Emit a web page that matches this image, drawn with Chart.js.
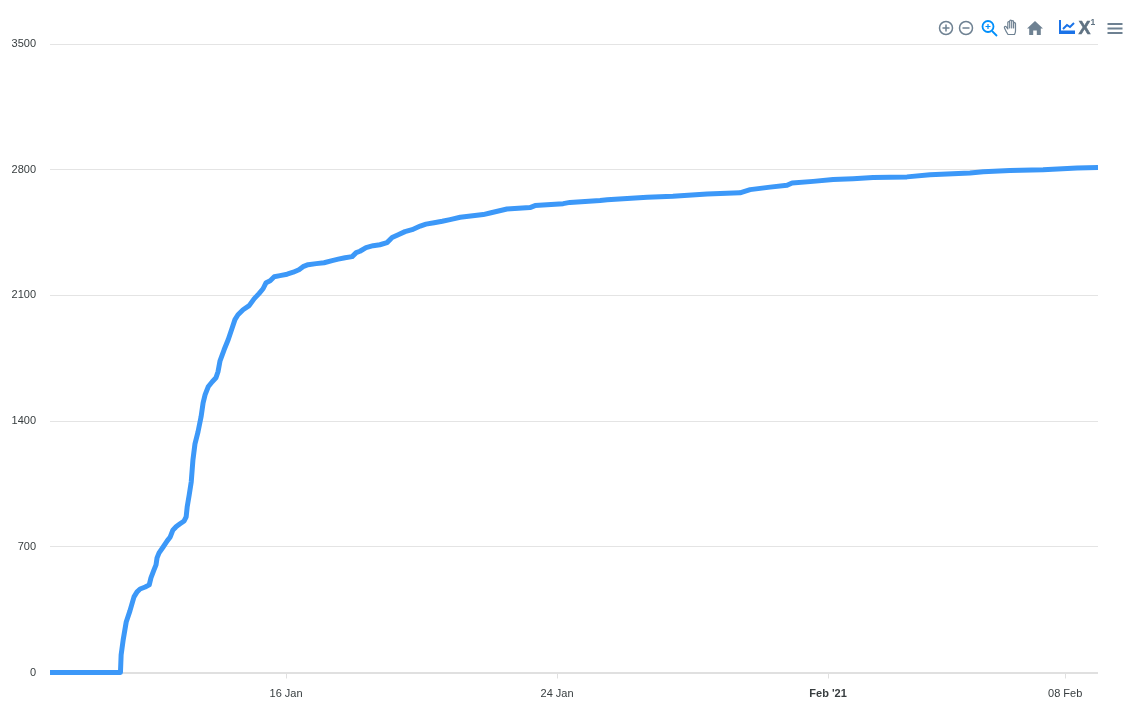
<!DOCTYPE html>
<html>
<head>
<meta charset="utf-8">
<style>
html,body{margin:0;padding:0;background:#fff;}
#wrap{position:relative;width:1136px;height:718px;overflow:hidden;}
#c{display:block;position:absolute;left:0;top:0;}
#tb{position:absolute;left:0;top:0;}
</style>
<script src="https://cdn.jsdelivr.net/npm/chart.js@4/dist/chart.umd.min.js"></script>
</head>
<body>
<div id="wrap">
<canvas id="c" width="1136" height="718"></canvas>
<svg id="tb" width="1136" height="60" viewBox="0 0 1136 60" fill="none">
  <g stroke="#6e8192" stroke-width="1.5">
    <circle cx="946" cy="28" r="6.500"/><path d="M942.500 28h7M946 24.500v7"/>
    <circle cx="966" cy="28" r="6.500"/><path d="M962.500 28h7"/>
  </g>
  <g stroke="#008ffb" stroke-width="1.8">
    <circle cx="988" cy="26.500" r="5.500"/><path d="M992 31l5 5"/>
    <path d="M985.500 26.500h5M988 24v5" stroke-width="1.200"/>
  </g>
  <path d="M1008 34.500c-1-1.500-2-3-3.500-6.500-.6-1.400.9-2.300 1.800-1.100l1.500 2V22.500c0-1.300 1.900-1.300 1.900 0V28 21c0-1.300 2-1.300 2 0v7-6.500c0-1.300 1.900-1.300 1.900 0V28v-4.500c0-1.300 1.900-1.300 1.900 0V31c0 1.500-.5 2.500-1 3.500z" stroke="#6e8192" stroke-width="1.200" stroke-linejoin="round"/>
  <path d="M1035 21l-8 7.500h2.200V35h4v-4.500h3.600V35h4v-6.500h2.200z" fill="#6e8192"/>
  <path d="M1060 20v13h15" stroke="#1a73e8" stroke-width="2"/>
  <path d="M1061 31.500h14M1063 29l4-4 3 2 4-4" stroke="#1a73e8" stroke-width="2"/>
  <text x="1078.500" y="33.500" font-family="Liberation Sans" font-weight="700" font-size="18" fill="#5f7282" stroke="#5f7282" stroke-width=".5">X</text>
  <text x="1090.500" y="25" font-family="Liberation Sans" font-weight="700" font-size="8.500" fill="#5f7282">1</text>
  <path d="M1107.500 24h15M1107.500 28.500h15M1107.500 33h15" stroke="#6e8192" stroke-width="1.800"/>
</svg>
</div>
<script>
const seriesDays = [9.03,11.11,11.13,11.19,11.28,11.39,11.51,11.60,11.69,11.84,11.96,12.01,12.10,12.16,12.19,12.25,12.37,12.49,12.58,12.66,12.75,12.87,12.99,13.05,13.08,13.14,13.20,13.25,13.31,13.40,13.49,13.55,13.61,13.70,13.82,13.93,13.99,14.05,14.17,14.29,14.41,14.49,14.58,14.73,14.91,15.06,15.20,15.32,15.41,15.53,15.65,15.82,16.03,16.21,16.38,16.50,16.65,16.89,17.12,17.36,17.54,17.74,17.95,18.07,18.18,18.36,18.57,18.77,18.98,19.13,19.31,19.51,19.72,19.96,20.13,20.37,20.61,20.84,21.14,21.82,22.02,22.52,23.20,23.35,24.18,24.38,25.27,25.48,26.66,27.42,28.43,29.40,29.70,30.29,30.79,30.94,31.56,32.15,32.74,33.33,34.33,35.01,36.19,36.58,37.37,38.35,39.35,39.97];
const seriesValues = [0,0,98,181,281,343,421,449,465,476,488,527,571,599,638,666,699,733,755,794,811,828,844,867,922,989,1062,1184,1273,1340,1424,1502,1547,1591,1619,1641,1675,1736,1797,1853,1920,1965,1992,2020,2043,2082,2110,2137,2171,2182,2204,2210,2218,2229,2243,2260,2271,2277,2282,2294,2302,2310,2316,2338,2346,2366,2377,2382,2394,2422,2438,2455,2466,2486,2497,2505,2513,2522,2535,2550,2559,2581,2589,2600,2611,2618,2629,2633,2646,2652,2665,2671,2689,2703,2713,2726,2735,2745,2750,2756,2760,2772,2782,2789,2795,2800,2810,2812];
const xTickDays = [16,24,32,39];
const xTickLabels = ['16 Jan','24 Jan',"Feb '21",'08 Feb'];
const yTickStep = 700;
const yMax = 3500;

const points = seriesDays.map((d,i)=>({x:d,y:seriesValues[i]}));
const tickFont = {family:'"Liberation Sans", Arial, sans-serif', size:11};

new Chart(document.getElementById('c'),{
  type:'line',
  data:{datasets:[{data:points,borderColor:'#3c98f8',borderWidth:5,pointRadius:0,tension:0,
    borderJoinStyle:'round',borderCapStyle:'butt',fill:false,clip:false}]},
  options:{
    responsive:false,animation:false,
    layout:{padding:{top:44,right:38,left:0,bottom:0}},
    plugins:{legend:{display:false},tooltip:{enabled:false},title:{display:false}},
    scales:{
      x:{type:'linear',min:9.03,max:39.97,
        afterBuildTicks(s){s.ticks=xTickDays.map(v=>({value:v}));},
        afterFit(s){s.height=45.5;},
        border:{display:false},
        grid:{drawOnChartArea:false,drawTicks:true,tickLength:6,color:'#e0e0e0',tickWidth:1},
        ticks:{autoSkip:false,maxRotation:0,padding:9,color:'#373d3f',
          font(ctx){const bold=ctx.index===2;return {...tickFont,weight:bold?'700':'400'};},
          callback(v){const i=xTickDays.indexOf(v);return i>=0?xTickLabels[i]:'';}}
      },
      y:{min:0,max:yMax,
        afterFit(s){s.width=50;},
        border:{display:false},
        grid:{color(ctx){return ctx.tick.value===0?'#e0e0e0':'#e4e4e4';},lineWidth(ctx){return ctx.tick.value===0?2:1;},drawTicks:false},
        ticks:{stepSize:yTickStep,padding:14,color:'#373d3f',font:tickFont,callback(v){return String(v);}}
      }
    }
  }
});
</script>
</body>
</html>
